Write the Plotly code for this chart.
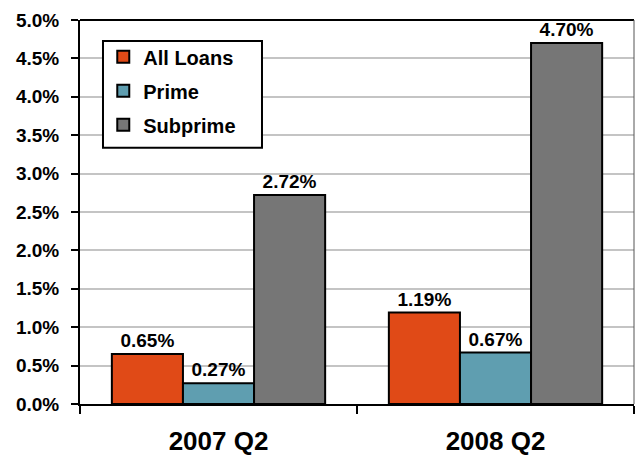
import plotly.graph_objects as go

# Delinquency rates by loan type, second quarters of 2007 and 2008 (percent)
quarters = ["2007 Q2", "2008 Q2"]
all_loans = [0.65, 1.19]
prime = [0.27, 0.67]
subprime = [2.72, 4.70]

series_names = ["All Loans", "Prime", "Subprime"]
series_colors = ["#E04A17", "#5F9EB0", "#767676"]
y_ticks = [0.0, 0.5, 1.0, 1.5, 2.0, 2.5, 3.0, 3.5, 4.0, 4.5, 5.0]

FONT = "Arial, Liberation Sans, sans-serif"

fig = go.Figure()
for name, vals, color in zip(series_names, [all_loans, prime, subprime], series_colors):
    fig.add_trace(go.Bar(
        x=quarters,
        y=vals,
        name=name,
        legendgroup=name,
        marker=dict(color=color, line=dict(color="#000000", width=2)),
        texttemplate="%{y:.2f}%",
        textposition="outside",
        textfont=dict(family=FONT, size=19, color="#000000", weight="bold"),
        cliponaxis=False,
    ))

fig.update_layout(
    width=636,
    height=458,
    margin=dict(l=80, r=2, t=20, b=54),
    paper_bgcolor="#FFFFFF",
    plot_bgcolor="#FFFFFF",
    barmode="group",
    bargap=0.23,
    bargroupgap=0,
    font=dict(family=FONT, color="#000000"),
    showlegend=True,
    legend=dict(
        x=0.042, y=0.955, xanchor="left", yanchor="top",
        bgcolor="rgba(0,0,0,0)",
        borderwidth=0,
        font=dict(family=FONT, size=20, color="#000000", weight="bold"),
        traceorder="grouped",
        tracegroupgap=5,
        itemclick=False,
    ),
    xaxis=dict(
        type="category",
        showgrid=False,
        showline=True,
        linecolor="#000000",
        linewidth=2,
        ticks="outside",
        tickson="boundaries",
        ticklen=8,
        tickwidth=2,
        tickcolor="#000000",
        ticklabelstandoff=13,
        tickfont=dict(family=FONT, size=26, color="#000000", weight="bold"),
        fixedrange=True,
    ),
    yaxis=dict(
        range=[0, 5.0],
        tickvals=y_ticks,
        ticktext=[f"{v:.1f}%" for v in y_ticks],
        showgrid=True,
        gridcolor="#C4C4C4",
        gridwidth=1.5,
        showline=True,
        linecolor="#000000",
        linewidth=2,
        ticks="outside",
        ticklen=7,
        tickwidth=2,
        tickcolor="#000000",
        ticklabelstandoff=8,
        tickfont=dict(family=FONT, size=19, color="#000000", weight="bold"),
        zeroline=False,
        fixedrange=True,
    ),
)

# White legend panel with a black frame
fig.add_shape(type="rect", xref="paper", yref="paper",
              x0=0.0415, x1=0.3285, y0=0.667, y1=0.945,
              fillcolor="#FFFFFF", line=dict(color="#000000", width=2), layer="above")

# Plot-area frame: black top edge, thin grey right edge
fig.add_shape(type="line", xref="paper", yref="paper", x0=0, x1=1, y0=1, y1=1,
              line=dict(color="#000000", width=2), layer="above")
fig.add_shape(type="line", xref="paper", yref="paper", x0=1, x1=1, y0=0, y1=1,
              line=dict(color="#555555", width=1), layer="above")

fig.write_html("out.html")
